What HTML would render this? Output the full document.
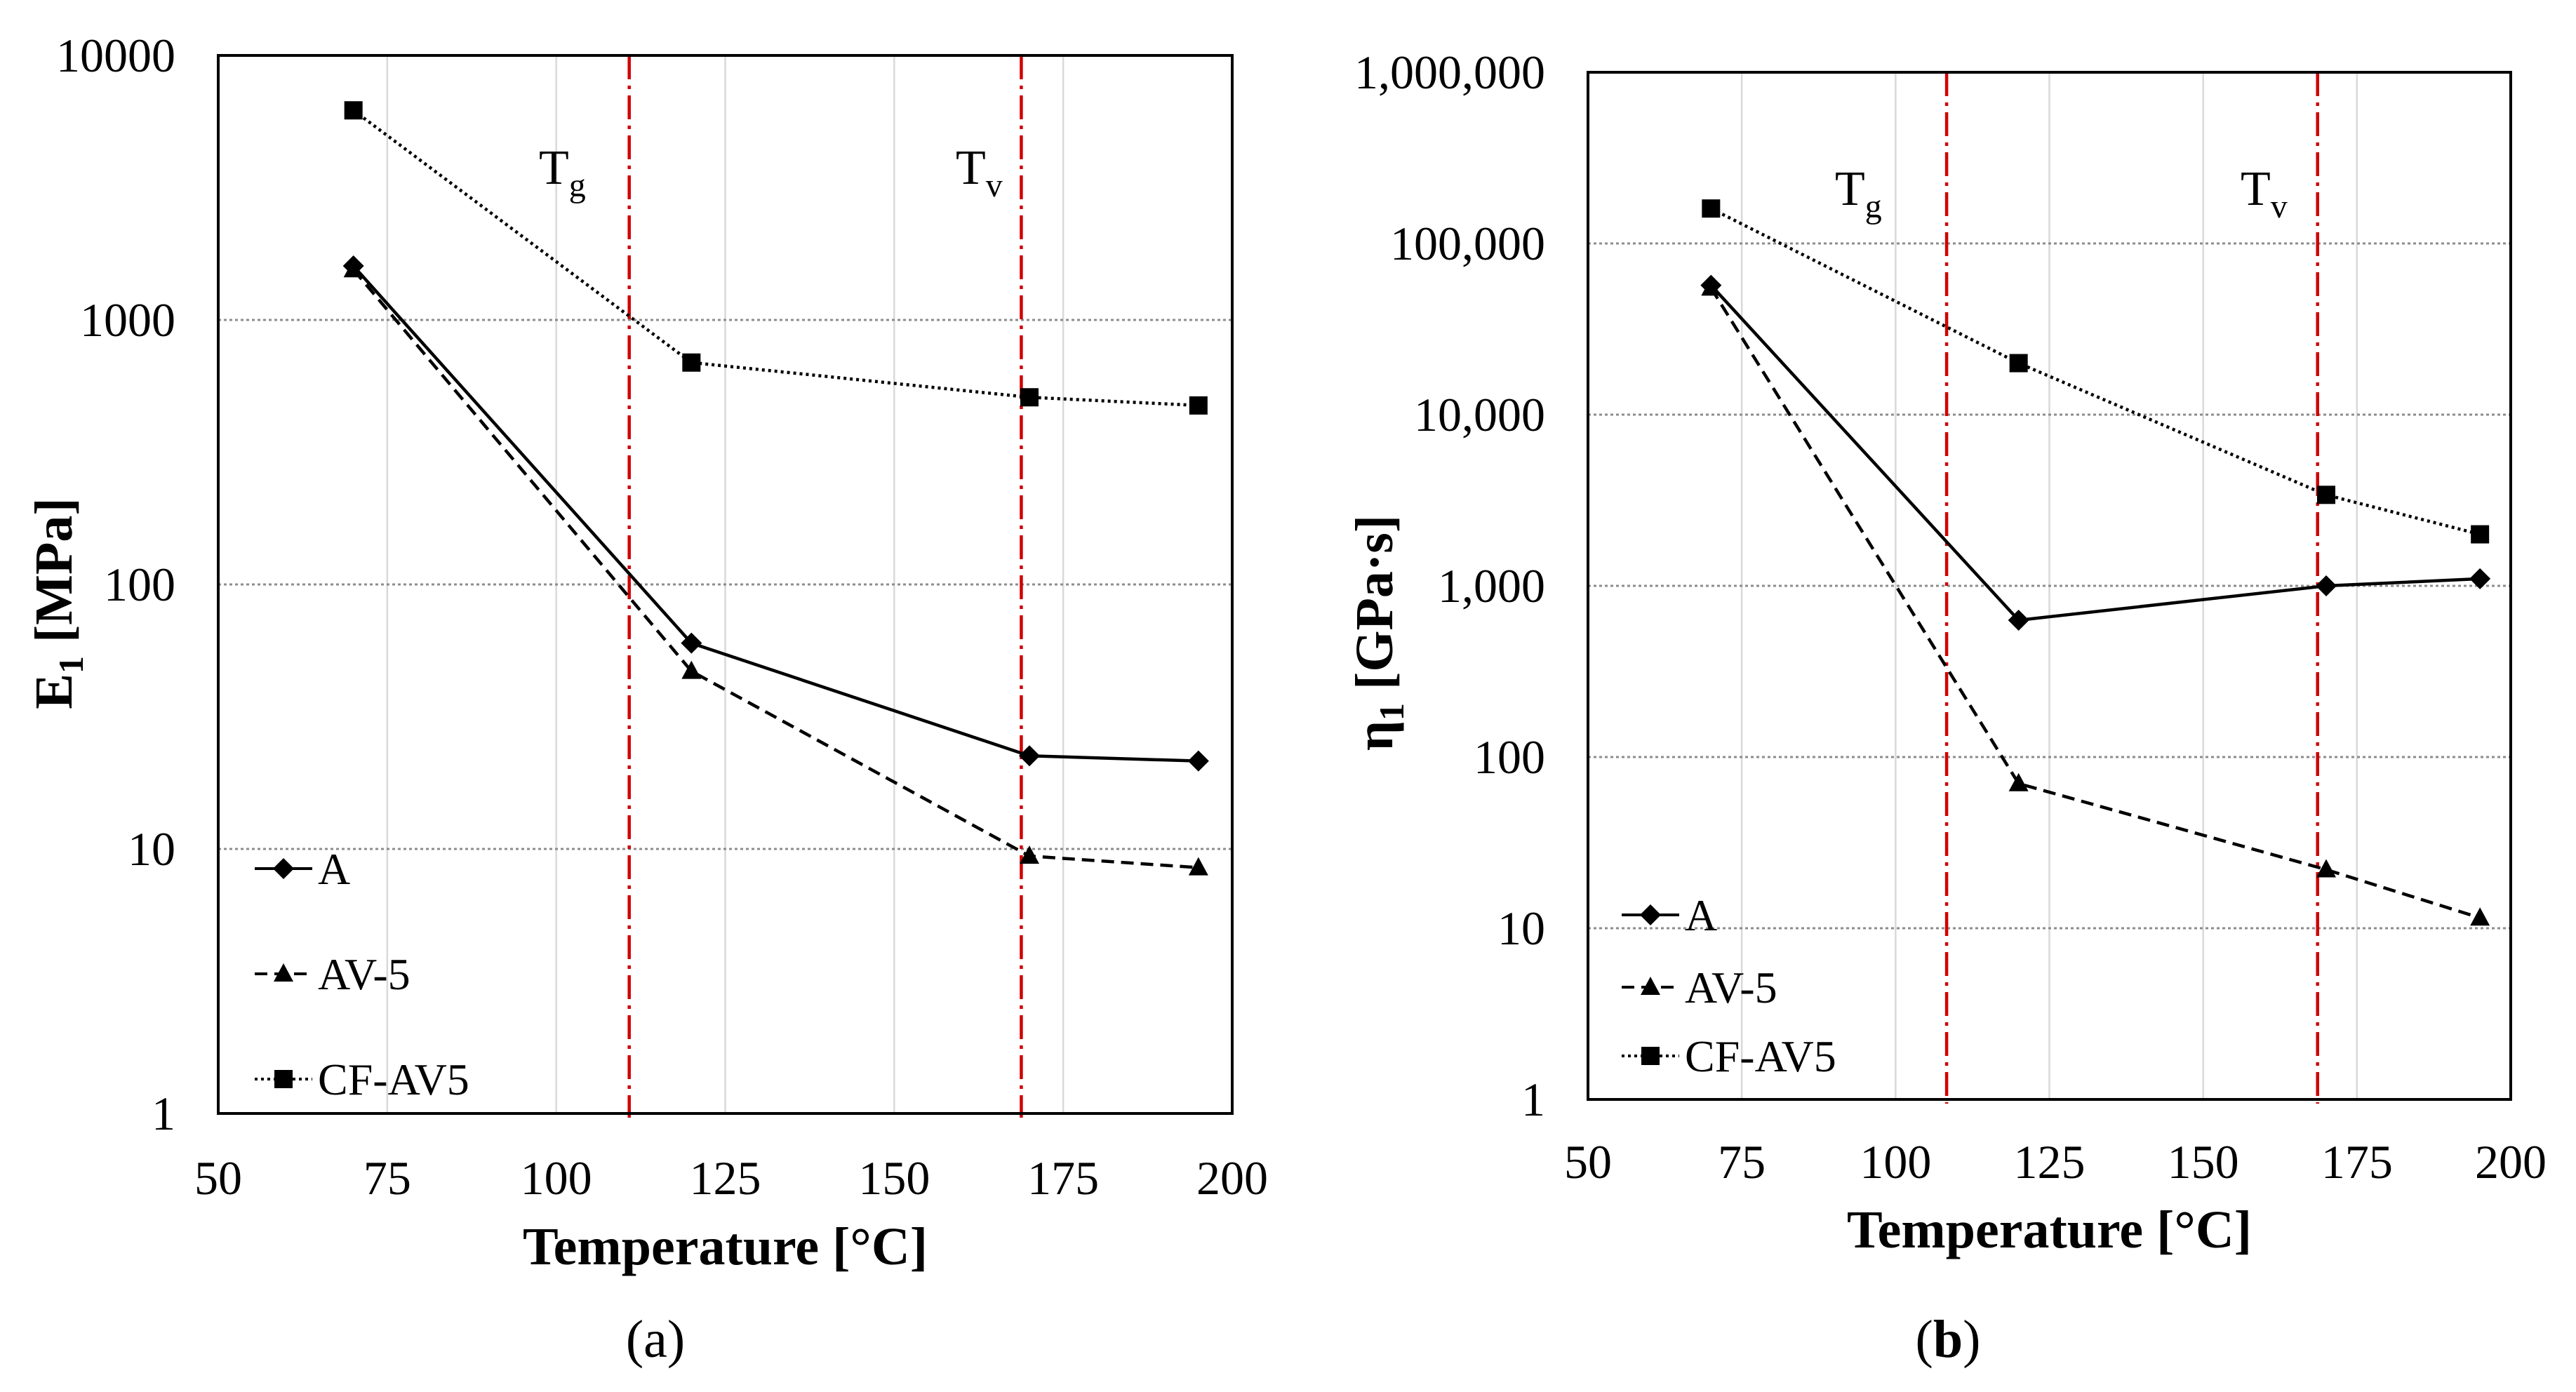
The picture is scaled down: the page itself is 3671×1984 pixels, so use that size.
<!DOCTYPE html>
<html><head><meta charset="utf-8"><style>
html,body{margin:0;padding:0;background:#fff;}
svg{display:block;font-family:"Liberation Serif",serif;}
</style></head><body>
<svg id="fig" width="3671" height="1984" viewBox="0 0 3671 1984" xmlns="http://www.w3.org/2000/svg"></svg>
<script>
const temps = [70, 120, 170, 195];
const xTicks = [50, 75, 100, 125, 150, 175, 200];
const seriesNames = ["A", "AV-5", "CF-AV5"];
// panel (a) E1 [MPa]
const aA = [1600, 60, 22.5, 21.5];
const aAV5 = [1550, 47, 9.4, 8.5];
const aCF = [6200, 690, 510, 475];
const aYTicks = [1, 10, 100, 1000, 10000];
const aYTickLabels = ["1", "10", "100", "1000", "10000"];
const aVLines = [110.8, 168.8];
// panel (b) eta1 [GPa s]
const bA = [57000, 630, 1000, 1100];
const bAV5 = [55000, 70, 22, 11.5];
const bCF = [160000, 20000, 3400, 2000];
const bYTicks = [1, 10, 100, 1000, 10000, 100000, 1000000];
const bYTickLabels = ["1", "10", "100", "1,000", "10,000", "100,000", "1,000,000"];
const bVLines = [108.3, 168.6];

const NS = "http://www.w3.org/2000/svg";
const svg = document.getElementById("fig");
function mk(tag, attrs, parent, text) {
  const e = document.createElementNS(NS, tag);
  for (const k in attrs) e.setAttribute(k, attrs[k]);
  if (text !== undefined) e.textContent = text;
  (parent || svg).appendChild(e);
  return e;
}
function marker(g, type, x, y) {
  let m;
  if (type === 0) m = mk("polygon", {points: `${x},${y-15} ${x+15},${y} ${x},${y+15} ${x-15},${y}`, fill: "#000"}, g);
  else if (type === 1) m = mk("polygon", {points: `${x},${y-15} ${x+14},${y+11} ${x-14},${y+11}`, fill: "#000"}, g);
  else m = mk("rect", {x: x-13, y: y-13, width: 26, height: 26, fill: "#000"}, g);
  return m;
}
const dashes = ["", "18,10", "4,5"];

function panel(cfg) {
  const {L, R, T, B, yMin, yMax, yTicks, yLabels, series, vlines, id} = cfg;
  const g = mk("g", {});
  
  
  const xs = v => L + (v - 50) / 150 * (R - L);
  const ys = v => B - (Math.log10(v) - Math.log10(yMin)) / (Math.log10(yMax) - Math.log10(yMin)) * (B - T);
  xTicks.forEach(t => {
    if (t > 50 && t < 200) {
      const l = mk("line", {x1: xs(t), x2: xs(t), y1: T, y2: B, stroke: "#d9d9d9", "stroke-width": 2.5}, g);
      
      
    }
    const tl = mk("text", {x: xs(t), y: cfg.xLabY, "font-size": 68, "text-anchor": "middle"}, g, String(t));
    
    
  });
  yTicks.forEach((t, i) => {
    if (i > 0 && i < yTicks.length - 1) {
      const l = mk("line", {x1: L, x2: R, y1: ys(t), y2: ys(t), stroke: "#8c8c8c", "stroke-width": 3, "stroke-dasharray": "4,4"}, g);
      
      
    }
    const tl = mk("text", {x: cfg.yLabX, y: ys(t) + 23, "font-size": 68, "text-anchor": "end"}, g, yLabels[i]);
    
    
  });
  vlines.forEach(v => {
    const l = mk("line", {x1: xs(v), x2: xs(v), y1: T, y2: B + 6, stroke: "#d00000", "stroke-width": 4.5, "stroke-dasharray": "34,9,5,9"}, g);
    
    
  });
  const fr = mk("rect", {x: L, y: T, width: R - L, height: B - T, fill: "none", stroke: "#000", "stroke-width": 4}, g);
  
  
  series.forEach((vals, si) => {
    const pts = vals.map((v, i) => xs(temps[i]) + "," + ys(v)).join(" ");
    const pl = mk("polyline", {points: pts, fill: "none", stroke: "#000", "stroke-width": 4.5, "stroke-dasharray": dashes[si]}, g);
    
    
    vals.forEach((v, i) => {
      const m = marker(g, si, xs(temps[i]), ys(v));
      
      
    });
  });
  [["T", "g", cfg.tg], ["T", "v", cfg.tv]].forEach(([a, s, p]) => {
    const t = mk("text", {x: p[0], y: p[1], "font-size": 70}, g);
    
    
    mk("tspan", {}, t, a);
    mk("tspan", {dy: 18, "font-size": 48}, t, s);
  });
  cfg.leg.forEach((ly, si) => {
    const lg = mk("g", {}, g);
    
    
    mk("line", {x1: cfg.legX, x2: cfg.legX + 82, y1: ly, y2: ly, stroke: "#000", "stroke-width": 4, "stroke-dasharray": dashes[si]}, lg);
    marker(lg, si, cfg.legX + 41, ly);
    mk("text", {x: cfg.legX + 90, y: ly + 22, "font-size": 64}, lg, seriesNames[si]);
  });
  const xt = mk("text", {x: (L + R) / 2, y: cfg.xTitleY, "font-size": 76, "font-weight": "bold", "text-anchor": "middle"}, g, "Temperature [°C]");
  
  
  const yt = mk("text", {x: 0, y: 0, "font-size": 76, "font-weight": "bold", "text-anchor": "middle", transform: `translate(${cfg.yTitle[0]},${cfg.yTitle[1]}) rotate(-90)`}, g);
  
  
  mk("tspan", {}, yt, cfg.yt[0]);
  mk("tspan", {dy: 16, "font-size": 50}, yt, "1");
  mk("tspan", {dy: -16}, yt, cfg.yt[1]);
  const cap = mk("text", {x: cfg.cap[0], y: cfg.cap[1], "font-size": 76, "text-anchor": "middle"}, g);
  
  
  mk("tspan", {}, cap, "(");
  mk("tspan", {"font-weight": cfg.capBold ? "bold" : "normal"}, cap, cfg.capL);
  mk("tspan", {}, cap, ")");
}

panel({id: "panel-a", L: 311, R: 1756, T: 79, B: 1587, yMin: 1, yMax: 10000, yTicks: aYTicks, yLabels: aYTickLabels,
  series: [aA, aAV5, aCF], vlines: aVLines, xLabY: 1702, yLabX: 250, tg: [768, 262], tv: [1362, 262],
  leg: [1238, 1388, 1538], legX: 363, xTitleY: 1802, yTitle: [102, 860], yt: ["E", " [MPa]"], cap: [934, 1934], capL: "a", capBold: false});
panel({id: "panel-b", L: 2263, R: 3578, T: 103, B: 1567, yMin: 1, yMax: 1000000, yTicks: bYTicks, yLabels: bYTickLabels,
  series: [bA, bAV5, bCF], vlines: bVLines, xLabY: 1679, yLabX: 2202, tg: [2615, 292], tv: [3193, 292],
  leg: [1304, 1407, 1505], legX: 2311, xTitleY: 1778, yTitle: [1984, 902], yt: ["η", " [GPa·s]"], cap: [2776, 1934], capL: "b", capBold: true});
</script>
</body></html>
